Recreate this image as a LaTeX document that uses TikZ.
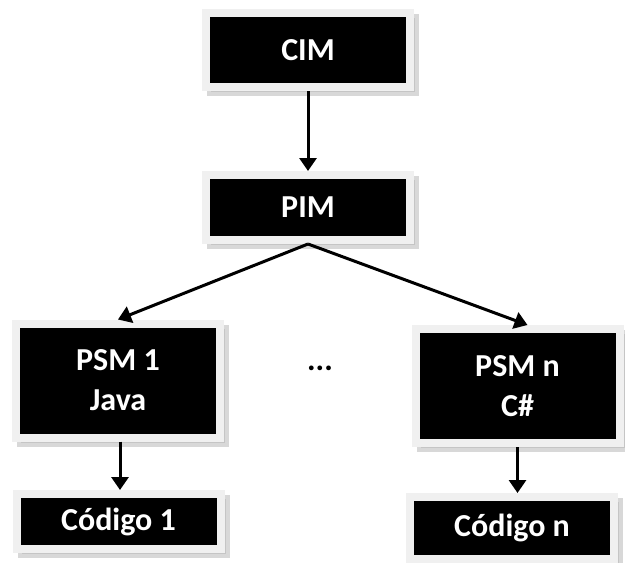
\documentclass[tikz,border=0pt]{standalone}
\usepackage{fontspec}
\setmainfont{Carlito}
\usetikzlibrary{arrows.meta,shadows}

\tikzset{
  mdabox/.style={rectangle, fill=black, draw=gray!12, line width=4pt,
    text=white, font=\bfseries\fontsize{16}{20}\selectfont, align=center,
    minimum width=102pt, inner sep=0pt,
    drop shadow={shadow xshift=2.5pt, shadow yshift=-2.5pt, fill=gray!60,
      draw=gray!60, line width=4pt}},
  flow/.style={line width=1.5pt, -{Triangle[width=8.5pt,length=6.5pt]}}
}

\begin{document}
\begin{tikzpicture}[x=0.5pt,y=-0.5pt]
    \useasboundingbox (0,0) rectangle (625,562);

    \node[mdabox, minimum height=37pt] (cim) at (308, 50) {CIM};
    \node[mdabox, minimum height=32.5pt] (pim) at (308, 207.5) {PIM};
    \node[mdabox, minimum height=57pt] (psm1) at (118, 380.5) {PSM 1\\Java};
    \node[mdabox, minimum height=57pt] (psmn) at (517.5, 386) {PSM n\\C\#};
    \node[mdabox, minimum height=27.5pt] (cod1) at (118.5, 521.5) {Código 1};
    \node[mdabox, minimum height=31pt] (codn) at (512, 528) {Código n};
    \node[font=\bfseries\fontsize{16}{20}\selectfont] (dots) at (320, 368) {...};

    \draw[flow] (cim) -- (pim);
    \draw[flow] (pim.south) -- (psm1.north);
    \draw[flow] (pim.south) -- ([xshift=5pt]psmn.north);
    \draw[flow] ([xshift=1pt]psm1.south) -- ([xshift=1pt]psm1.south |- cod1.north);
    \draw[flow] (psmn.south) -- (psmn.south |- codn.north);

\end{tikzpicture}
\end{document}
